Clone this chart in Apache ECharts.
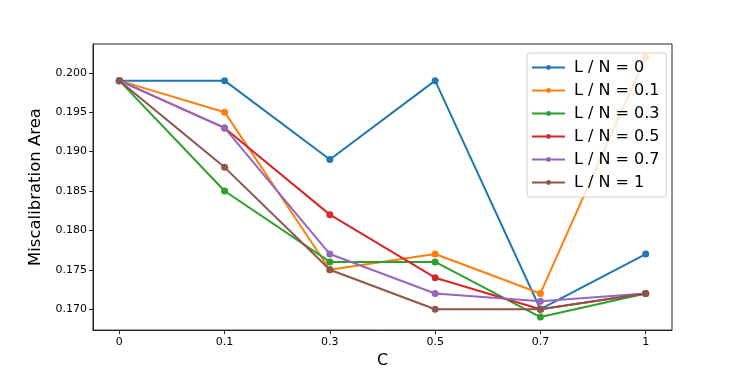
<!DOCTYPE html>
<html>
<head>
<meta charset="utf-8">
<script src="https://cdn.jsdelivr.net/npm/echarts@6/dist/echarts.min.js"></script>
<style>
  html, body { margin: 0; padding: 0; background: #fff; }
  #chart { width: 747px; height: 374px; }
</style>
</head>
<body>
<div id="chart"></div>
<script>
// x categories (C)
var categories = ['0', '0.1', '0.3', '0.5', '0.7', '1'];
// y tick labels
var yTicks = [0.170, 0.175, 0.180, 0.185, 0.190, 0.195, 0.200];

// series values
var ln0  = [0.199, 0.199, 0.189, 0.199, 0.170, 0.177];
var ln01 = [0.199, 0.195, 0.175, 0.177, 0.172, 0.202];
var ln03 = [0.199, 0.185, 0.176, 0.176, 0.169, 0.172];
var ln05 = [0.199, 0.193, 0.182, 0.174, 0.170, 0.172];
var ln07 = [0.199, 0.193, 0.177, 0.172, 0.171, 0.172];
var ln1  = [0.199, 0.188, 0.175, 0.170, 0.170, 0.172];

var seriesNames = ['L / N = 0', 'L / N = 0.1', 'L / N = 0.3', 'L / N = 0.5', 'L / N = 0.7', 'L / N = 1'];
var seriesData = [ln0, ln01, ln03, ln05, ln07, ln1];
var colors = ['#1f77b4', '#ff7f0e', '#2ca02c', '#d62728', '#9467bd', '#8c564b'];

var font = 'DejaVu Sans';
var myChart = echarts.init(document.getElementById('chart'));

var series = seriesData.map(function (vals, i) {
  return {
    name: seriesNames[i],
    type: 'line',
    color: colors[i],
    symbol: 'circle',
    symbolSize: 7,
    lineStyle: { width: 2 },
    animation: false,
    data: vals.map(function (v, j) { return [j, v]; })
  };
});

var option = {
  backgroundColor: '#fff',
  textStyle: { fontFamily: font },
  grid: {
    left: 93, right: 75, top: 44, bottom: 42,
    show: true, borderColor: '#222', borderWidth: 1
  },
  legend: {
    orient: 'vertical',
    left: 527, top: 53,
    itemWidth: 33, itemHeight: 6,
    itemGap: 6,
    padding: [6, 7, 6, 4],
    backgroundColor: 'rgba(255,255,255,0.8)',
    borderColor: '#d0d0d0', borderWidth: 1, borderRadius: 3,
    lineStyle: { width: 2 },
    textStyle: { fontFamily: font, fontSize: 16, color: '#000', lineHeight: 17, padding: [0, 0, 0, 4] },
    data: seriesNames
  },
  xAxis: {
    type: 'value',
    min: -0.25, max: 5.25,
    name: 'C', nameLocation: 'middle', nameGap: 21,
    nameTextStyle: { fontFamily: font, fontSize: 16, color: '#000' },
    splitLine: { show: false },
    axisLine: { show: true, onZero: false, lineStyle: { color: '#222' } },
    axisTick: { show: true, length: 4, customValues: [0, 1, 2, 3, 4, 5], lineStyle: { color: '#222' } },
    axisLabel: {
      customValues: [0, 1, 2, 3, 4, 5],
      fontFamily: font, fontSize: 11, color: '#000', margin: 7,
      formatter: function (v) { return categories[Math.round(v)]; }
    }
  },
  yAxis: {
    type: 'value',
    min: 0.16735, max: 0.20365,
    name: 'Miscalibration Area', nameLocation: 'middle', nameGap: 40,
    nameTextStyle: { fontFamily: font, fontSize: 16.5, color: '#000' },
    splitLine: { show: false },
    axisLine: { show: true, onZero: false, lineStyle: { color: '#222' } },
    axisTick: { show: true, length: 4, customValues: yTicks, lineStyle: { color: '#222' } },
    axisLabel: {
      customValues: yTicks,
      fontFamily: font, fontSize: 11, color: '#000', margin: 6,
      formatter: function (v) { return v.toFixed(3); }
    }
  },
  series: series
};

myChart.setOption(option);
</script>
</body>
</html>
